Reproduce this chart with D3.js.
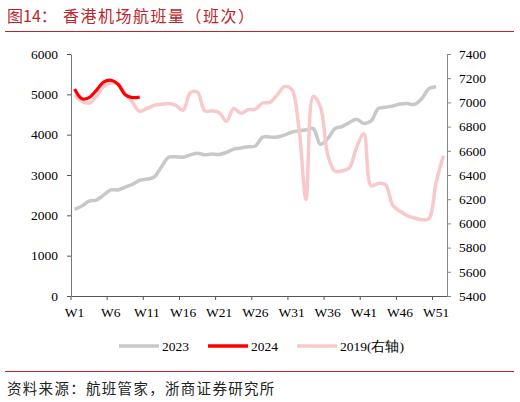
<!DOCTYPE html>
<html>
<head>
<meta charset="utf-8">
<script src="https://cdn.jsdelivr.net/npm/d3@7"></script>
<style>
  body { margin: 0; background: #fff; }
  svg { display: block; }
</style>
</head>
<body>
<svg id="chart" width="520" height="402"></svg>
<script>
// weeks W1..W52
const weeks = d3.range(1, 53).map(i => "W" + i);
const tickWeeks = ["W1","W6","W11","W16","W21","W26","W31","W36","W41","W46","W51"];

// 2023 (left axis), W1..W51
const s2023 = [2150,2230,2350,2380,2500,2630,2630,2700,2770,2870,
  2900,2950,3200,3440,3450,3440,3500,3540,3500,3520,
  3510,3560,3640,3670,3700,3720,3940,3940,3940,3990,
  4060,4100,4120,4150,3760,3900,4150,4200,4300,4380,
  4280,4340,4650,4680,4710,4760,4770,4750,4890,5140,5190];

// 2024 (left axis), W1..W10
const s2024 = [5130,4890,4920,5100,5300,5350,5250,4990,4920,4930];

// 2019 (right axis), W1..W52
const s2019 = [7060,7010,6995,7050,7130,7160,7155,7070,7000,6925,
  6950,6975,6985,6990,6975,6935,7080,7085,6930,6930,
  6915,6845,6950,6910,6940,6945,6995,7000,7060,7130,
  7110,6800,6200,7050,6960,6570,6430,6435,6460,6630,
  6740,6310,6330,6320,6150,6100,6065,6045,6030,6040,
  6340,6560];

const leftTicks = d3.range(0, 6001, 1000);
const rightTicks = d3.range(5400, 7401, 200);

const svg = d3.select("#chart");
const serif = "'Liberation Serif', 'Times New Roman', serif";
const cjk = "'Noto Sans CJK SC', sans-serif";

// title
svg.append("text").attr("x", 7).attr("y", 22)
  .attr("fill", "#c0232a").attr("font-family", cjk).attr("font-size", 16)
  .text("图14：");
svg.append("text").attr("x", 63).attr("y", 22)
  .attr("fill", "#c0232a").attr("font-family", cjk).attr("font-size", 16)
  .attr("letter-spacing", 1.5)
  .text("香港机场航班量（班次）");
svg.append("line").attr("x1", 5).attr("x2", 514).attr("y1", 31.5).attr("y2", 31.5)
  .attr("stroke", "#c0232a").attr("stroke-width", 1);

// scales
const x = d3.scaleBand().domain(weeks).range([71, 447]).padding(0);
const bw = x.bandwidth();
const cx = w => x(w) + bw / 2;
const yL = d3.scaleLinear().domain([0, 6000]).range([296, 54]);
const yR = d3.scaleLinear().domain([5400, 7400]).range([296, 54]);

// axes
const gx = svg.append("g").attr("transform", "translate(0,296)")
  .call(d3.axisBottom(x).tickValues(tickWeeks).tickSize(4).tickSizeOuter(0));
gx.selectAll(".tick line").attr("x1", -bw / 2).attr("x2", -bw / 2);
gx.select(".domain").attr("stroke", "#555");
gx.selectAll(".tick line").attr("stroke", "#555");
gx.selectAll(".tick text").attr("font-family", serif).attr("font-size", 13.5)
  .attr("fill", "#000").attr("dy", "1.05em");

const gl = svg.append("g").attr("transform", "translate(71,0)")
  .call(d3.axisLeft(yL).tickValues(leftTicks).tickFormat(d3.format("d"))
    .tickSize(4).tickSizeOuter(0).tickPadding(9));
gl.select(".domain").attr("stroke", "#777");
gl.selectAll(".tick line").attr("stroke", "#555");
gl.selectAll(".tick text").attr("font-family", serif).attr("font-size", 13.5).attr("fill", "#000");

const gr = svg.append("g").attr("transform", "translate(447,0)")
  .call(d3.axisRight(yR).tickValues(rightTicks).tickFormat(d3.format("d"))
    .tickSize(4).tickSizeOuter(0).tickPadding(8));
gr.select(".domain").attr("stroke", "#888");
gr.selectAll(".tick line").attr("stroke", "#888");
gr.selectAll(".tick text").attr("font-family", serif).attr("font-size", 13.5).attr("fill", "#000");

// lines
const curve = d3.curveCatmullRom.alpha(0.5);
const lineL = d3.line().x((d, i) => cx(weeks[i])).y(d => yL(d)).curve(curve);
const lineR = d3.line().x((d, i) => cx(weeks[i])).y(d => yR(d)).curve(curve);

svg.append("path").datum(s2023).attr("d", lineL)
  .attr("fill", "none").attr("stroke", "#c8c8c8").attr("stroke-width", 3.5);
svg.append("path").datum(s2019).attr("d", lineR)
  .attr("fill", "none").attr("stroke", "#f8c8cb").attr("stroke-width", 3.5);
svg.append("path").datum(s2024).attr("d", lineL)
  .attr("fill", "none").attr("stroke", "#ff0000").attr("stroke-width", 3.2);

// legend
const legend = [
  { name: "2023", color: "#c8c8c8", x: 119 },
  { name: "2024", color: "#ff0000", x: 208 },
  { name: "2019(右轴)", color: "#f8c8cb", x: 297 }
];
const lg = svg.append("g");
lg.selectAll("line").data(legend).enter().append("line")
  .attr("x1", d => d.x).attr("x2", d => d.x + 40)
  .attr("y1", 346).attr("y2", 346)
  .attr("stroke", d => d.color).attr("stroke-width", 3.5);
lg.selectAll("text").data(legend).enter().append("text")
  .attr("x", d => d.x + 43).attr("y", 351)
  .attr("font-family", serif).attr("font-size", 13.5).attr("fill", "#000")
  .text(d => d.name);

// footer
svg.append("line").attr("x1", 5).attr("x2", 514).attr("y1", 371.5).attr("y2", 371.5)
  .attr("stroke", "#c0232a").attr("stroke-width", 1);
svg.append("text").attr("x", 7).attr("y", 394)
  .attr("fill", "#222").attr("font-family", cjk).attr("font-size", 14.5)
  .attr("letter-spacing", 1.3)
  .text("资料来源：航班管家，浙商证券研究所");
</script>
</body>
</html>
